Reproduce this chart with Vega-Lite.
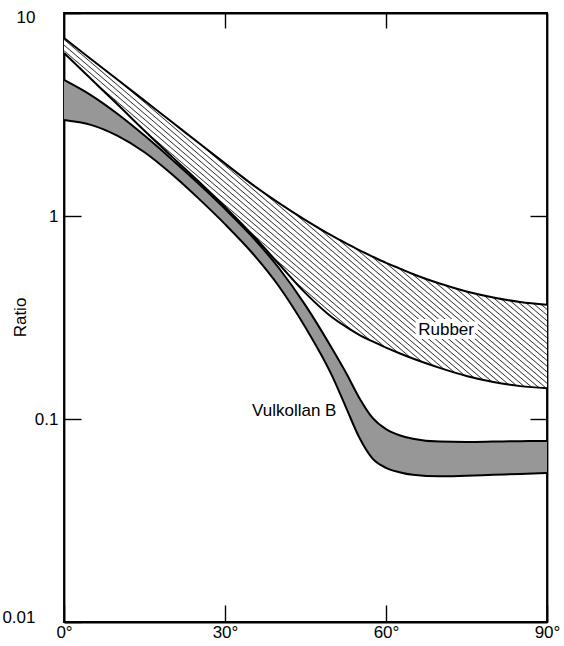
{
  "$schema": "https://vega.github.io/schema/vega-lite/v6.json",
  "width": 483,
  "height": 609,
  "autosize": {"type": "none"},
  "padding": {"left": 64, "top": 13, "right": 17, "bottom": 24},
  "background": "white",
  "config": {
    "view": {"stroke": "black", "strokeWidth": 1.8},
    "font": "Liberation Sans",
    "axis": {
      "grid": false,
      "domainColor": "black",
      "domainWidth": 1.8,
      "tickColor": "black",
      "tickWidth": 1.4,
      "labelColor": "black",
      "labelFontSize": 17,
      "labelFont": "Liberation Sans",
      "titleColor": "black",
      "titleFont": "Liberation Sans",
      "titleFontSize": 17,
      "titleFontWeight": "normal"
    }
  },
  "datasets": {
    "curves": [
      {"angle": 0, "rub_hi": 7.53, "rub_lo": 6.35, "vul_hi": 4.68, "vul_lo": 2.97},
      {"angle": 5, "rub_hi": 5.94, "rub_lo": 4.74, "vul_hi": 3.94, "vul_lo": 2.81},
      {"angle": 10, "rub_hi": 4.69, "rub_lo": 3.54, "vul_hi": 3.18, "vul_lo": 2.48},
      {"angle": 15, "rub_hi": 3.7, "rub_lo": 2.63, "vul_hi": 2.49, "vul_lo": 2.06},
      {"angle": 20, "rub_hi": 2.92, "rub_lo": 1.972, "vul_hi": 1.91, "vul_lo": 1.614},
      {"angle": 25, "rub_hi": 2.3, "rub_lo": 1.486, "vul_hi": 1.449, "vul_lo": 1.225},
      {"angle": 30, "rub_hi": 1.816, "rub_lo": 1.109, "vul_hi": 1.084, "vul_lo": 0.912},
      {"angle": 35, "rub_hi": 1.436, "rub_lo": 0.813, "vul_hi": 0.794, "vul_lo": 0.661},
      {"angle": 40, "rub_hi": 1.161, "rub_lo": 0.582, "vul_hi": 0.556, "vul_lo": 0.452},
      {"angle": 45, "rub_hi": 0.955, "rub_lo": 0.417, "vul_hi": 0.363, "vul_lo": 0.282},
      {"angle": 50, "rub_hi": 0.798, "rub_lo": 0.3162, "vul_hi": 0.2213, "vul_lo": 0.1622},
      {"angle": 52.5, "rub_hi": 0.735, "rub_lo": 0.2851, "vul_hi": 0.1698, "vul_lo": 0.1148},
      {"angle": 55, "rub_hi": 0.679, "rub_lo": 0.26, "vul_hi": 0.1274, "vul_lo": 0.0813},
      {"angle": 57.5, "rub_hi": 0.631, "rub_lo": 0.241, "vul_hi": 0.1012, "vul_lo": 0.0638},
      {"angle": 60, "rub_hi": 0.588, "rub_lo": 0.2249, "vul_hi": 0.0891, "vul_lo": 0.0575},
      {"angle": 62.5, "rub_hi": 0.552, "rub_lo": 0.2109, "vul_hi": 0.0832, "vul_lo": 0.0547},
      {"angle": 65, "rub_hi": 0.518, "rub_lo": 0.1986, "vul_hi": 0.08, "vul_lo": 0.0531},
      {"angle": 70, "rub_hi": 0.465, "rub_lo": 0.1786, "vul_hi": 0.0774, "vul_lo": 0.0522},
      {"angle": 75, "rub_hi": 0.425, "rub_lo": 0.1629, "vul_hi": 0.0771, "vul_lo": 0.0526},
      {"angle": 80, "rub_hi": 0.397, "rub_lo": 0.1521, "vul_hi": 0.0774, "vul_lo": 0.0531},
      {"angle": 85, "rub_hi": 0.377, "rub_lo": 0.1452, "vul_hi": 0.0778, "vul_lo": 0.0536},
      {"angle": 90, "rub_hi": 0.365, "rub_lo": 0.1419, "vul_hi": 0.078, "vul_lo": 0.0542}
    ],
    "labels": [
      {"text": "Rubber", "angle": 71.2, "ratio": 0.274},
      {"text": "Vulkollan B", "angle": 42.9, "ratio": 0.109}
    ]
  },
  "resolve": {"axis": {"x": "independent", "y": "independent"}},
  "layer": [
    {
      "data": {"name": "curves"},
      "mark": {
        "type": "area",
        "interpolate": "monotone",
        "color": {
          "gradient": "linear", "x1": 0, "y1": 0.85, "x2": 1, "y2": 0,
          "stops": [
            {"offset": 0, "color": "#fff"}, {"offset": 0.0015, "color": "#333"}, {"offset": 0.003, "color": "#fff"},
            {"offset": 0.008, "color": "#fff"}, {"offset": 0.0095, "color": "#333"}, {"offset": 0.011, "color": "#fff"},
            {"offset": 0.016, "color": "#fff"}, {"offset": 0.0175, "color": "#333"}, {"offset": 0.019, "color": "#fff"},
            {"offset": 0.024, "color": "#fff"}, {"offset": 0.0255, "color": "#333"}, {"offset": 0.027, "color": "#fff"},
            {"offset": 0.032, "color": "#fff"}, {"offset": 0.0335, "color": "#333"}, {"offset": 0.035, "color": "#fff"},
            {"offset": 0.04, "color": "#fff"}, {"offset": 0.0415, "color": "#333"}, {"offset": 0.043, "color": "#fff"},
            {"offset": 0.048, "color": "#fff"}, {"offset": 0.0495, "color": "#333"}, {"offset": 0.051, "color": "#fff"},
            {"offset": 0.056, "color": "#fff"}, {"offset": 0.0575, "color": "#333"}, {"offset": 0.059, "color": "#fff"},
            {"offset": 0.064, "color": "#fff"}, {"offset": 0.0655, "color": "#333"}, {"offset": 0.067, "color": "#fff"},
            {"offset": 0.072, "color": "#fff"}, {"offset": 0.0735, "color": "#333"}, {"offset": 0.075, "color": "#fff"},
            {"offset": 0.08, "color": "#fff"}, {"offset": 0.0815, "color": "#333"}, {"offset": 0.083, "color": "#fff"},
            {"offset": 0.088, "color": "#fff"}, {"offset": 0.0895, "color": "#333"}, {"offset": 0.091, "color": "#fff"},
            {"offset": 0.096, "color": "#fff"}, {"offset": 0.0975, "color": "#333"}, {"offset": 0.099, "color": "#fff"},
            {"offset": 0.104, "color": "#fff"}, {"offset": 0.1055, "color": "#333"}, {"offset": 0.107, "color": "#fff"},
            {"offset": 0.112, "color": "#fff"}, {"offset": 0.1135, "color": "#333"}, {"offset": 0.115, "color": "#fff"},
            {"offset": 0.12, "color": "#fff"}, {"offset": 0.1215, "color": "#333"}, {"offset": 0.123, "color": "#fff"},
            {"offset": 0.128, "color": "#fff"}, {"offset": 0.1295, "color": "#333"}, {"offset": 0.131, "color": "#fff"},
            {"offset": 0.136, "color": "#fff"}, {"offset": 0.1375, "color": "#333"}, {"offset": 0.139, "color": "#fff"},
            {"offset": 0.144, "color": "#fff"}, {"offset": 0.1455, "color": "#333"}, {"offset": 0.147, "color": "#fff"},
            {"offset": 0.152, "color": "#fff"}, {"offset": 0.1535, "color": "#333"}, {"offset": 0.155, "color": "#fff"},
            {"offset": 0.16, "color": "#fff"}, {"offset": 0.1615, "color": "#333"}, {"offset": 0.163, "color": "#fff"},
            {"offset": 0.168, "color": "#fff"}, {"offset": 0.1695, "color": "#333"}, {"offset": 0.171, "color": "#fff"},
            {"offset": 0.176, "color": "#fff"}, {"offset": 0.1775, "color": "#333"}, {"offset": 0.179, "color": "#fff"},
            {"offset": 0.184, "color": "#fff"}, {"offset": 0.1855, "color": "#333"}, {"offset": 0.187, "color": "#fff"},
            {"offset": 0.192, "color": "#fff"}, {"offset": 0.1935, "color": "#333"}, {"offset": 0.195, "color": "#fff"},
            {"offset": 0.2, "color": "#fff"}, {"offset": 0.2015, "color": "#333"}, {"offset": 0.203, "color": "#fff"},
            {"offset": 0.208, "color": "#fff"}, {"offset": 0.2095, "color": "#333"}, {"offset": 0.211, "color": "#fff"},
            {"offset": 0.216, "color": "#fff"}, {"offset": 0.2175, "color": "#333"}, {"offset": 0.219, "color": "#fff"},
            {"offset": 0.224, "color": "#fff"}, {"offset": 0.2255, "color": "#333"}, {"offset": 0.227, "color": "#fff"},
            {"offset": 0.232, "color": "#fff"}, {"offset": 0.2335, "color": "#333"}, {"offset": 0.235, "color": "#fff"},
            {"offset": 0.24, "color": "#fff"}, {"offset": 0.2415, "color": "#333"}, {"offset": 0.243, "color": "#fff"},
            {"offset": 0.248, "color": "#fff"}, {"offset": 0.2495, "color": "#333"}, {"offset": 0.251, "color": "#fff"},
            {"offset": 0.256, "color": "#fff"}, {"offset": 0.2575, "color": "#333"}, {"offset": 0.259, "color": "#fff"},
            {"offset": 0.264, "color": "#fff"}, {"offset": 0.2655, "color": "#333"}, {"offset": 0.267, "color": "#fff"},
            {"offset": 0.272, "color": "#fff"}, {"offset": 0.2735, "color": "#333"}, {"offset": 0.275, "color": "#fff"},
            {"offset": 0.28, "color": "#fff"}, {"offset": 0.2815, "color": "#333"}, {"offset": 0.283, "color": "#fff"},
            {"offset": 0.288, "color": "#fff"}, {"offset": 0.2895, "color": "#333"}, {"offset": 0.291, "color": "#fff"},
            {"offset": 0.296, "color": "#fff"}, {"offset": 0.2975, "color": "#333"}, {"offset": 0.299, "color": "#fff"},
            {"offset": 0.304, "color": "#fff"}, {"offset": 0.3055, "color": "#333"}, {"offset": 0.307, "color": "#fff"},
            {"offset": 0.312, "color": "#fff"}, {"offset": 0.3135, "color": "#333"}, {"offset": 0.315, "color": "#fff"},
            {"offset": 0.32, "color": "#fff"}, {"offset": 0.3215, "color": "#333"}, {"offset": 0.323, "color": "#fff"},
            {"offset": 0.328, "color": "#fff"}, {"offset": 0.3295, "color": "#333"}, {"offset": 0.331, "color": "#fff"},
            {"offset": 0.336, "color": "#fff"}, {"offset": 0.3375, "color": "#333"}, {"offset": 0.339, "color": "#fff"},
            {"offset": 0.344, "color": "#fff"}, {"offset": 0.3455, "color": "#333"}, {"offset": 0.347, "color": "#fff"},
            {"offset": 0.352, "color": "#fff"}, {"offset": 0.3535, "color": "#333"}, {"offset": 0.355, "color": "#fff"},
            {"offset": 0.36, "color": "#fff"}, {"offset": 0.3615, "color": "#333"}, {"offset": 0.363, "color": "#fff"},
            {"offset": 0.368, "color": "#fff"}, {"offset": 0.3695, "color": "#333"}, {"offset": 0.371, "color": "#fff"},
            {"offset": 0.376, "color": "#fff"}, {"offset": 0.3775, "color": "#333"}, {"offset": 0.379, "color": "#fff"},
            {"offset": 0.384, "color": "#fff"}, {"offset": 0.3855, "color": "#333"}, {"offset": 0.387, "color": "#fff"},
            {"offset": 0.392, "color": "#fff"}, {"offset": 0.3935, "color": "#333"}, {"offset": 0.395, "color": "#fff"},
            {"offset": 0.4, "color": "#fff"}, {"offset": 0.4015, "color": "#333"}, {"offset": 0.403, "color": "#fff"},
            {"offset": 0.408, "color": "#fff"}, {"offset": 0.4095, "color": "#333"}, {"offset": 0.411, "color": "#fff"},
            {"offset": 0.416, "color": "#fff"}, {"offset": 0.4175, "color": "#333"}, {"offset": 0.419, "color": "#fff"},
            {"offset": 0.424, "color": "#fff"}, {"offset": 0.4255, "color": "#333"}, {"offset": 0.427, "color": "#fff"},
            {"offset": 0.432, "color": "#fff"}, {"offset": 0.4335, "color": "#333"}, {"offset": 0.435, "color": "#fff"},
            {"offset": 0.44, "color": "#fff"}, {"offset": 0.4415, "color": "#333"}, {"offset": 0.443, "color": "#fff"},
            {"offset": 0.448, "color": "#fff"}, {"offset": 0.4495, "color": "#333"}, {"offset": 0.451, "color": "#fff"},
            {"offset": 0.456, "color": "#fff"}, {"offset": 0.4575, "color": "#333"}, {"offset": 0.459, "color": "#fff"},
            {"offset": 0.464, "color": "#fff"}, {"offset": 0.4655, "color": "#333"}, {"offset": 0.467, "color": "#fff"},
            {"offset": 0.472, "color": "#fff"}, {"offset": 0.4735, "color": "#333"}, {"offset": 0.475, "color": "#fff"},
            {"offset": 0.48, "color": "#fff"}, {"offset": 0.4815, "color": "#333"}, {"offset": 0.483, "color": "#fff"},
            {"offset": 0.488, "color": "#fff"}, {"offset": 0.4895, "color": "#333"}, {"offset": 0.491, "color": "#fff"},
            {"offset": 0.496, "color": "#fff"}, {"offset": 0.4975, "color": "#333"}, {"offset": 0.499, "color": "#fff"},
            {"offset": 0.504, "color": "#fff"}, {"offset": 0.5055, "color": "#333"}, {"offset": 0.507, "color": "#fff"},
            {"offset": 0.512, "color": "#fff"}, {"offset": 0.5135, "color": "#333"}, {"offset": 0.515, "color": "#fff"},
            {"offset": 0.52, "color": "#fff"}, {"offset": 0.5215, "color": "#333"}, {"offset": 0.523, "color": "#fff"},
            {"offset": 0.528, "color": "#fff"}, {"offset": 0.5295, "color": "#333"}, {"offset": 0.531, "color": "#fff"},
            {"offset": 0.536, "color": "#fff"}, {"offset": 0.5375, "color": "#333"}, {"offset": 0.539, "color": "#fff"},
            {"offset": 0.544, "color": "#fff"}, {"offset": 0.5455, "color": "#333"}, {"offset": 0.547, "color": "#fff"},
            {"offset": 0.552, "color": "#fff"}, {"offset": 0.5535, "color": "#333"}, {"offset": 0.555, "color": "#fff"},
            {"offset": 0.56, "color": "#fff"}, {"offset": 0.5615, "color": "#333"}, {"offset": 0.563, "color": "#fff"},
            {"offset": 0.568, "color": "#fff"}, {"offset": 0.5695, "color": "#333"}, {"offset": 0.571, "color": "#fff"},
            {"offset": 0.576, "color": "#fff"}, {"offset": 0.5775, "color": "#333"}, {"offset": 0.579, "color": "#fff"},
            {"offset": 0.584, "color": "#fff"}, {"offset": 0.5855, "color": "#333"}, {"offset": 0.587, "color": "#fff"},
            {"offset": 0.592, "color": "#fff"}, {"offset": 0.5935, "color": "#333"}, {"offset": 0.595, "color": "#fff"},
            {"offset": 0.6, "color": "#fff"}, {"offset": 0.6015, "color": "#333"}, {"offset": 0.603, "color": "#fff"},
            {"offset": 0.608, "color": "#fff"}, {"offset": 0.6095, "color": "#333"}, {"offset": 0.611, "color": "#fff"},
            {"offset": 0.616, "color": "#fff"}, {"offset": 0.6175, "color": "#333"}, {"offset": 0.619, "color": "#fff"},
            {"offset": 0.624, "color": "#fff"}, {"offset": 0.6255, "color": "#333"}, {"offset": 0.627, "color": "#fff"},
            {"offset": 0.632, "color": "#fff"}, {"offset": 0.6335, "color": "#333"}, {"offset": 0.635, "color": "#fff"},
            {"offset": 0.64, "color": "#fff"}, {"offset": 0.6415, "color": "#333"}, {"offset": 0.643, "color": "#fff"},
            {"offset": 0.648, "color": "#fff"}, {"offset": 0.6495, "color": "#333"}, {"offset": 0.651, "color": "#fff"},
            {"offset": 0.656, "color": "#fff"}, {"offset": 0.6575, "color": "#333"}, {"offset": 0.659, "color": "#fff"},
            {"offset": 0.664, "color": "#fff"}, {"offset": 0.6655, "color": "#333"}, {"offset": 0.667, "color": "#fff"},
            {"offset": 0.672, "color": "#fff"}, {"offset": 0.6735, "color": "#333"}, {"offset": 0.675, "color": "#fff"},
            {"offset": 0.68, "color": "#fff"}, {"offset": 0.6815, "color": "#333"}, {"offset": 0.683, "color": "#fff"},
            {"offset": 0.688, "color": "#fff"}, {"offset": 0.6895, "color": "#333"}, {"offset": 0.691, "color": "#fff"},
            {"offset": 0.696, "color": "#fff"}, {"offset": 0.6975, "color": "#333"}, {"offset": 0.699, "color": "#fff"},
            {"offset": 0.704, "color": "#fff"}, {"offset": 0.7055, "color": "#333"}, {"offset": 0.707, "color": "#fff"},
            {"offset": 0.712, "color": "#fff"}, {"offset": 0.7135, "color": "#333"}, {"offset": 0.715, "color": "#fff"},
            {"offset": 0.72, "color": "#fff"}, {"offset": 0.7215, "color": "#333"}, {"offset": 0.723, "color": "#fff"},
            {"offset": 0.728, "color": "#fff"}, {"offset": 0.7295, "color": "#333"}, {"offset": 0.731, "color": "#fff"},
            {"offset": 0.736, "color": "#fff"}, {"offset": 0.7375, "color": "#333"}, {"offset": 0.739, "color": "#fff"},
            {"offset": 0.744, "color": "#fff"}, {"offset": 0.7455, "color": "#333"}, {"offset": 0.747, "color": "#fff"},
            {"offset": 0.752, "color": "#fff"}, {"offset": 0.7535, "color": "#333"}, {"offset": 0.755, "color": "#fff"},
            {"offset": 0.76, "color": "#fff"}, {"offset": 0.7615, "color": "#333"}, {"offset": 0.763, "color": "#fff"},
            {"offset": 0.768, "color": "#fff"}, {"offset": 0.7695, "color": "#333"}, {"offset": 0.771, "color": "#fff"},
            {"offset": 0.776, "color": "#fff"}, {"offset": 0.7775, "color": "#333"}, {"offset": 0.779, "color": "#fff"},
            {"offset": 0.784, "color": "#fff"}, {"offset": 0.7855, "color": "#333"}, {"offset": 0.787, "color": "#fff"},
            {"offset": 0.792, "color": "#fff"}, {"offset": 0.7935, "color": "#333"}, {"offset": 0.795, "color": "#fff"},
            {"offset": 0.8, "color": "#fff"}, {"offset": 0.8015, "color": "#333"}, {"offset": 0.803, "color": "#fff"},
            {"offset": 0.808, "color": "#fff"}, {"offset": 0.8095, "color": "#333"}, {"offset": 0.811, "color": "#fff"},
            {"offset": 0.816, "color": "#fff"}, {"offset": 0.8175, "color": "#333"}, {"offset": 0.819, "color": "#fff"},
            {"offset": 0.824, "color": "#fff"}, {"offset": 0.8255, "color": "#333"}, {"offset": 0.827, "color": "#fff"},
            {"offset": 0.832, "color": "#fff"}, {"offset": 0.8335, "color": "#333"}, {"offset": 0.835, "color": "#fff"},
            {"offset": 0.84, "color": "#fff"}, {"offset": 0.8415, "color": "#333"}, {"offset": 0.843, "color": "#fff"},
            {"offset": 0.848, "color": "#fff"}, {"offset": 0.8495, "color": "#333"}, {"offset": 0.851, "color": "#fff"},
            {"offset": 0.856, "color": "#fff"}, {"offset": 0.8575, "color": "#333"}, {"offset": 0.859, "color": "#fff"},
            {"offset": 0.864, "color": "#fff"}, {"offset": 0.8655, "color": "#333"}, {"offset": 0.867, "color": "#fff"},
            {"offset": 0.872, "color": "#fff"}, {"offset": 0.8735, "color": "#333"}, {"offset": 0.875, "color": "#fff"},
            {"offset": 0.88, "color": "#fff"}, {"offset": 0.8815, "color": "#333"}, {"offset": 0.883, "color": "#fff"},
            {"offset": 0.888, "color": "#fff"}, {"offset": 0.8895, "color": "#333"}, {"offset": 0.891, "color": "#fff"},
            {"offset": 0.896, "color": "#fff"}, {"offset": 0.8975, "color": "#333"}, {"offset": 0.899, "color": "#fff"},
            {"offset": 0.904, "color": "#fff"}, {"offset": 0.9055, "color": "#333"}, {"offset": 0.907, "color": "#fff"},
            {"offset": 0.912, "color": "#fff"}, {"offset": 0.9135, "color": "#333"}, {"offset": 0.915, "color": "#fff"},
            {"offset": 0.92, "color": "#fff"}, {"offset": 0.9215, "color": "#333"}, {"offset": 0.923, "color": "#fff"},
            {"offset": 0.928, "color": "#fff"}, {"offset": 0.9295, "color": "#333"}, {"offset": 0.931, "color": "#fff"},
            {"offset": 0.936, "color": "#fff"}, {"offset": 0.9375, "color": "#333"}, {"offset": 0.939, "color": "#fff"},
            {"offset": 0.944, "color": "#fff"}, {"offset": 0.9455, "color": "#333"}, {"offset": 0.947, "color": "#fff"},
            {"offset": 0.952, "color": "#fff"}, {"offset": 0.9535, "color": "#333"}, {"offset": 0.955, "color": "#fff"},
            {"offset": 0.96, "color": "#fff"}, {"offset": 0.9615, "color": "#333"}, {"offset": 0.963, "color": "#fff"},
            {"offset": 0.968, "color": "#fff"}, {"offset": 0.9695, "color": "#333"}, {"offset": 0.971, "color": "#fff"},
            {"offset": 0.976, "color": "#fff"}, {"offset": 0.9775, "color": "#333"}, {"offset": 0.979, "color": "#fff"},
            {"offset": 0.984, "color": "#fff"}, {"offset": 0.9855, "color": "#333"}, {"offset": 0.987, "color": "#fff"},
            {"offset": 0.992, "color": "#fff"}, {"offset": 0.9935, "color": "#333"}, {"offset": 0.995, "color": "#fff"},
            {"offset": 1, "color": "#fff"}
          ]
        }
      },
      "encoding": {
        "x": {
          "field": "angle", "type": "quantitative",
          "scale": {"domain": [0, 90], "nice": false, "zero": false},
          "axis": {
            "orient": "bottom", "title": null, "values": [0, 30, 60, 90],
            "labelExpr": "datum.value + '°'", "tickSize": -17, "labelPadding": 19,
            "labelFlush": false, "labelFontSize": 17
          }
        },
        "y": {
          "field": "rub_hi", "type": "quantitative",
          "scale": {"type": "log", "domain": [0.01, 10], "nice": false},
          "axis": {
            "orient": "left", "title": "Ratio", "values": [0.01, 0.1, 1, 10],
            "format": "~g", "tickSize": -17,
            "labelPadding": {"condition": {"test": "datum.value == 10 || datum.value == 0.01", "value": 46}, "value": 23},
            "labelOffset": {"condition": [{"test": "datum.value == 10", "value": 4}, {"test": "datum.value == 0.01", "value": -5}], "value": 0},
            "labelFlush": false, "labelFontSize": 17,
            "titleFontSize": 17, "titleX": -44, "titleY": 304,
            "titleAngle": -90, "titleAlign": "center", "titleBaseline": "middle"
          }
        },
        "y2": {"field": "rub_lo"}
      }
    },
    {
      "data": {"name": "curves"},
      "mark": {"type": "area", "interpolate": "monotone", "color": "#979797"},
      "encoding": {
        "x": {"field": "angle", "type": "quantitative", "axis": null},
        "y": {"field": "vul_hi", "type": "quantitative", "axis": null},
        "y2": {"field": "vul_lo"}
      }
    },
    {
      "data": {"name": "curves"},
      "transform": [{"fold": ["rub_hi", "rub_lo", "vul_hi", "vul_lo"], "as": ["curve", "value"]}],
      "mark": {"type": "line", "interpolate": "monotone", "color": "black", "strokeWidth": 2},
      "encoding": {
        "x": {
          "field": "angle", "type": "quantitative",
          "axis": {"orient": "top", "title": null, "values": [30, 60], "labels": false, "tickSize": -15}
        },
        "y": {
          "field": "value", "type": "quantitative",
          "axis": {"orient": "right", "title": null, "values": [0.1, 1], "labels": false, "tickSize": -17}
        },
        "detail": {"field": "curve"}
      }
    },
    {
      "data": {"name": "labels"},
      "mark": {"type": "text", "fontSize": 17, "font": "Liberation Sans", "stroke": "white", "strokeWidth": 8, "align": "center", "baseline": "middle"},
      "encoding": {
        "x": {"field": "angle", "type": "quantitative", "axis": null},
        "y": {"field": "ratio", "type": "quantitative", "axis": null},
        "text": {"field": "text"}
      }
    },
    {
      "data": {"name": "labels"},
      "mark": {"type": "text", "fontSize": 17, "font": "Liberation Sans", "color": "black", "align": "center", "baseline": "middle"},
      "encoding": {
        "x": {"field": "angle", "type": "quantitative", "axis": null},
        "y": {"field": "ratio", "type": "quantitative", "axis": null},
        "text": {"field": "text"}
      }
    }
  ]
}
